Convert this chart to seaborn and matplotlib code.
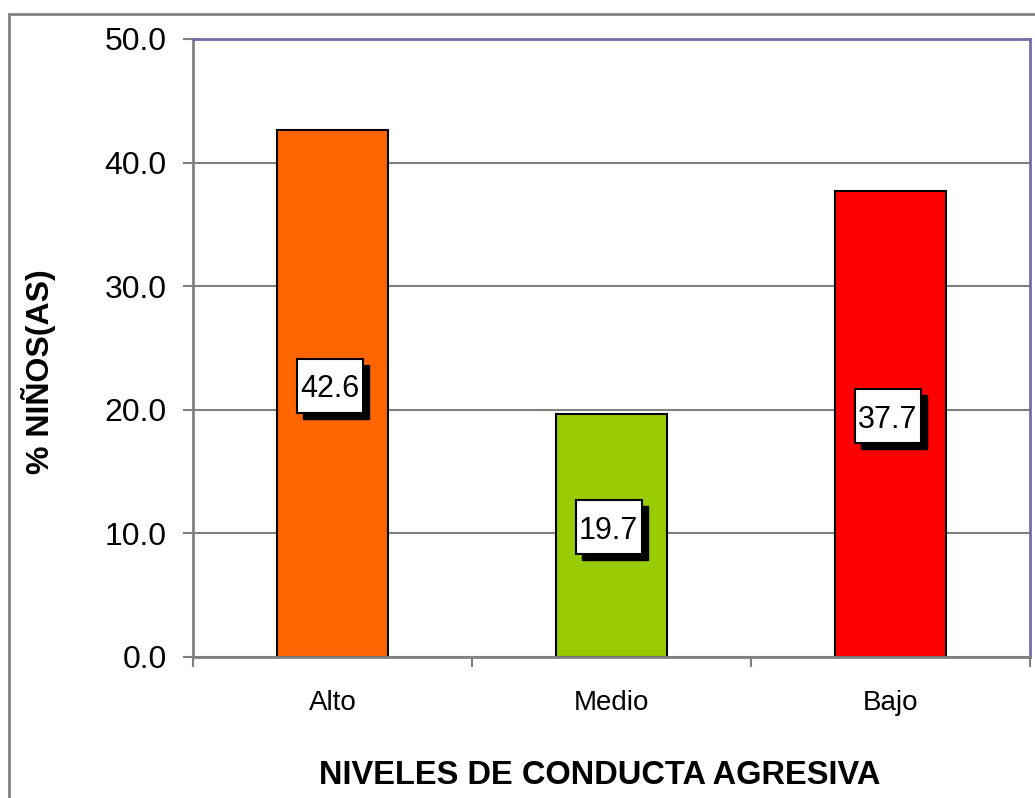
import matplotlib
matplotlib.use("Agg")
import matplotlib.pyplot as plt
import matplotlib.transforms as mtrans
from matplotlib.lines import Line2D
from matplotlib.patches import Rectangle
import seaborn as sns
import pandas as pd

niveles = ["Alto", "Medio", "Bajo"]
porcentajes = [42.6, 19.7, 37.7]
colores = ["#FF6600", "#99CC00", "#FF0000"]
yticks = [0, 10, 20, 30, 40, 50]

sns.set_style("white")
plt.rcParams["font.family"] = ["Liberation Sans", "DejaVu Sans"]
plt.rcParams["text.color"] = "black"
plt.rcParams["xtick.color"] = "black"
plt.rcParams["ytick.color"] = "black"
plt.rcParams["axes.labelcolor"] = "black"

df = pd.DataFrame({"nivel": niveles, "pct": porcentajes})

fig = plt.figure(figsize=(10.35, 7.98), dpi=100)
ax = fig.add_axes([193 / 1035, 1 - 657 / 798, (1030 - 193) / 1035, (657 - 39) / 798])

# outer chart border (grey)
fig.add_artist(Line2D([9 / 1035, 9 / 1035], [0, 1 - 14 / 798], transform=fig.transFigure,
                      color="#808080", lw=2))
fig.add_artist(Line2D([9 / 1035, 1], [1 - 14 / 798, 1 - 14 / 798], transform=fig.transFigure,
                      color="#808080", lw=2))

ax.yaxis.grid(True, color="#808080", lw=1.5, zorder=0)
ax.set_axisbelow(True)

sns.barplot(data=df, x="nivel", y="pct", hue="nivel", palette=colores, width=0.4,
            saturation=1, edgecolor="black", linewidth=1.5, legend=False, ax=ax, zorder=2)

ax.set_ylim(0, 50)
ax.set_xlim(-0.5, 2.5)
ax.set_yticks(yticks)
ax.set_yticklabels([f"{v:.1f}" for v in yticks], fontsize=23)
ax.tick_params(axis="y", length=7, width=1.5, color="#808080", pad=12, direction="out", left=True)
ax.set_xticks(range(len(niveles)))
ax.set_xticklabels(niveles, fontsize=20)
ax.tick_params(axis="x", which="major", length=0, pad=24)
ax.set_xticks([-0.5, 0.5, 1.5, 2.5], minor=True)
ax.tick_params(axis="x", which="minor", length=7, width=1.5, color="#808080", direction="out", bottom=True)

for side in ["left", "bottom"]:
    ax.spines[side].set_color("#808080")
    ax.spines[side].set_linewidth(2)
for side in ["top", "right"]:
    ax.spines[side].set_visible(True)
    ax.spines[side].set_color("#7070A8")
    ax.spines[side].set_linewidth(2)

ax.set_xlabel("NIVELES DE CONDUCTA AGRESIVA", fontsize=23.5, fontweight="bold")
ax.xaxis.set_label_coords((600 - 193) / (1030 - 193), -(776 - 657) / (657 - 39))
ax.xaxis.label.set_va("center")
ax.set_ylabel("% NIÑOS(AS)", fontsize=23, fontweight="bold")
ax.yaxis.set_label_coords(-(193 - 39) / (1030 - 193), (657 - 372) / (657 - 39))
ax.yaxis.label.set_va("center")

# data labels: white box with black drop shadow (sizes in pixels)
bw, bh = 66, 54
for i, v in enumerate(porcentajes):
    anchor = mtrans.ScaledTranslation(i, v / 2, ax.transData)
    pix = mtrans.Affine2D().translate(-3, 8) + anchor
    ax.add_patch(Rectangle((-bw / 2 + 6, -bh / 2 - 6), bw, bh, transform=pix,
                           fc="black", ec="black", lw=1, zorder=3))
    ax.add_patch(Rectangle((-bw / 2, -bh / 2), bw, bh, transform=pix,
                           fc="white", ec="black", lw=1.5, zorder=4))
    ax.text(0, 0, f"{v:.1f}", transform=pix, ha="center", va="center_baseline",
            fontsize=22, color="black", zorder=5)

fig.savefig("out.png", dpi=100)
